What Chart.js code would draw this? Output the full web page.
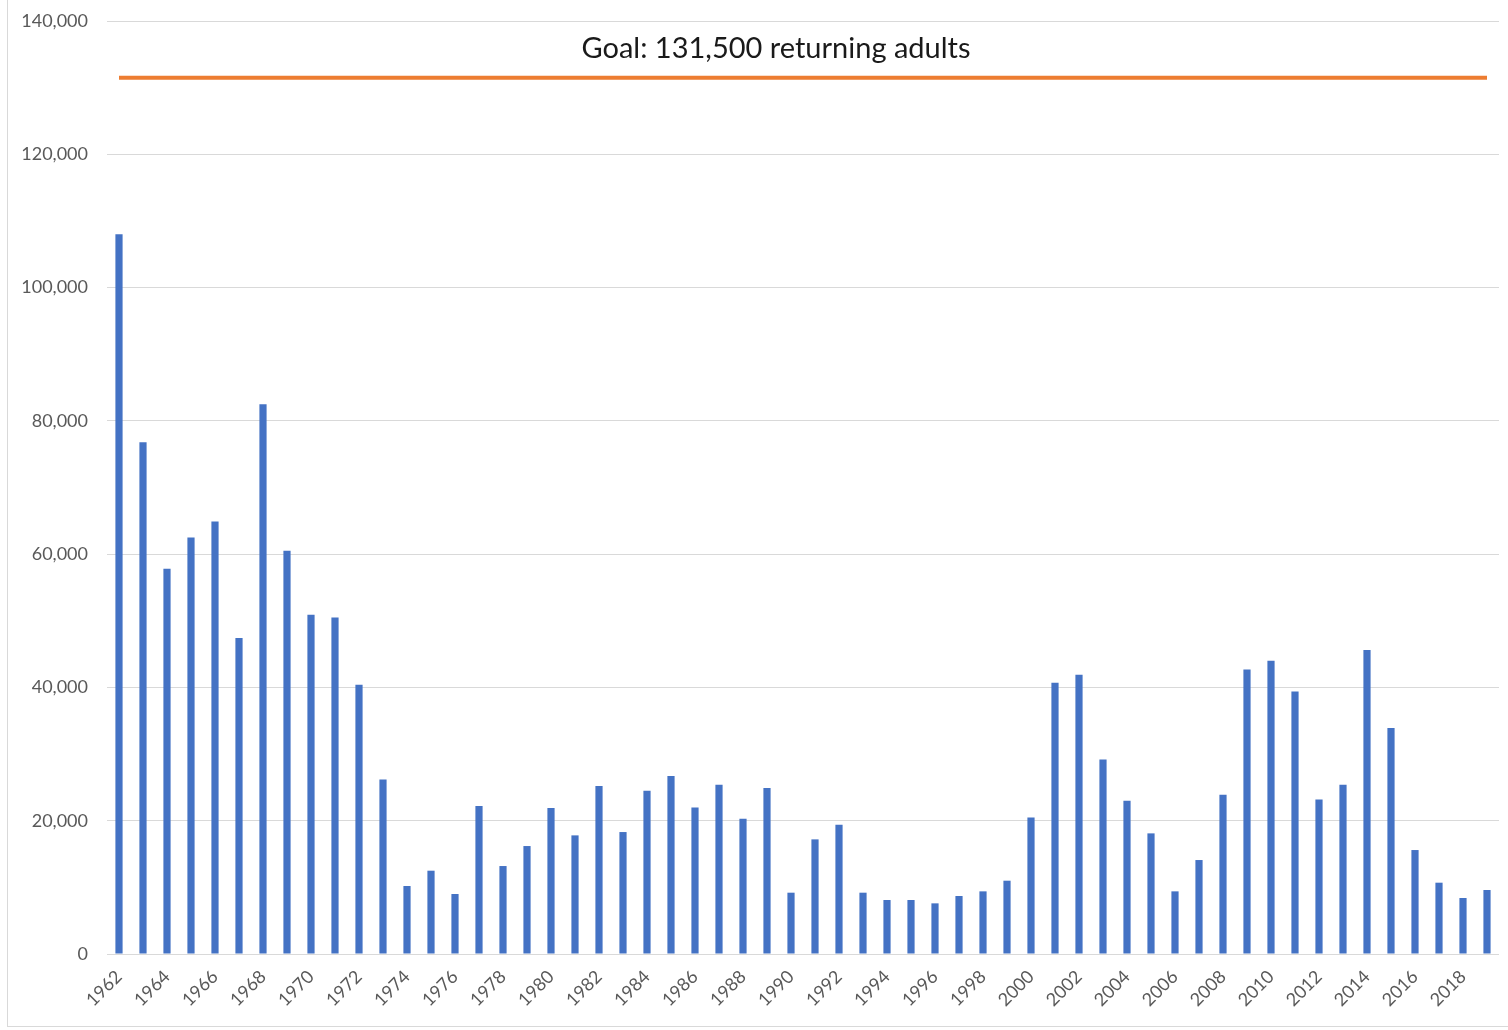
<!DOCTYPE html>
<html>
<head>
<meta charset="utf-8">
<script src="https://cdn.jsdelivr.net/npm/chart.js@4"></script>
<style>
  html, body { margin: 0; padding: 0; background: #fff; }
  #wrap { position: relative; width: 1508px; height: 1030px; }
  #frame { position: absolute; left: 7px; top: 0; width: 1501px; height: 1027px;
           border-left: 1px solid #d9d9d9; border-bottom: 1px solid #d9d9d9; box-sizing: border-box; }
</style>
</head>
<body>
<div id="wrap">
  <div id="frame"></div>
  <canvas id="myChart" width="1508" height="1030"></canvas>
</div>
<script>
// Anios y adultos que regresan
const years = [];
for (let y = 1962; y <= 2019; y++) years.push(String(y));

const adults = [
  108000, 76800, 57800, 62500, 64900, 47400, 82500, 60500, 50900, 50500,
  40400, 26200, 10200, 12500, 9000, 22200, 13200, 16200, 21900, 17800,
  25200, 18300, 24500, 26700, 22000, 25400, 20300, 24900, 9200, 17200,
  19400, 9200, 8100, 8100, 7600, 8700, 9400, 11000, 20500, 40700,
  41900, 29200, 23000, 18100, 9400, 14100, 23900, 42700, 44000, 39400,
  23200, 25400, 45600, 33900, 15600, 10700, 8400, 9600
];

const goal = 131500;
const goalText = 'Goal: 131,500 returning adults';
const yTicks = [0, 20000, 40000, 60000, 80000, 100000, 120000, 140000];

const fontFam = 'Lato, "Open Sans", sans-serif';

// Texto de la meta dibujado dentro del area del grafico
const goalLabel = {
  id: 'goalLabel',
  afterDatasetsDraw(chart) {
    const { ctx, chartArea, scales } = chart;
    const x = chartArea.left + chartArea.width * 0.4806;
    const y = scales.y.getPixelForValue(135900);
    ctx.save();
    ctx.font = '29px ' + fontFam;
    ctx.fillStyle = '#1a1a1a';
    ctx.textAlign = 'center';
    ctx.textBaseline = 'middle';
    ctx.fillText(goalText, x, y);
    ctx.restore();
  }
};

const ctx = document.getElementById('myChart');

new Chart(ctx, {
  type: 'bar',
  data: {
    labels: years,
    datasets: [
      {
        type: 'line',
        label: 'Goal',
        data: [{ x: years[0], y: goal }, { x: years[years.length - 1], y: goal }],
        borderColor: '#ED7D31',
        borderWidth: 4,
        pointRadius: 0,
        fill: false,
        order: 0
      },
      {
        label: 'Returning adults',
        data: adults,
        backgroundColor: '#4472C4',
        borderWidth: 0,
        barPercentage: 0.3,
        categoryPercentage: 1.0,
        order: 1
      }
    ]
  },
  options: {
    responsive: false,
    animation: false,
    layout: { padding: { top: 21, right: 9, left: 7, bottom: 0 } },
    plugins: {
      legend: { display: false },
      title: { display: false },
      tooltip: { enabled: false }
    },
    scales: {
      y: {
        min: 0,
        max: 140000,
        afterBuildTicks: s => { s.ticks = yTicks.map(v => ({ value: v })); },
        afterFit: s => { s.width = 100; s.paddingTop = 0; s.paddingBottom = 0; },
        grid: { color: '#d9d9d9', drawTicks: false },
        border: { display: false },
        ticks: {
          padding: 19,
          color: '#595959',
          font: { family: fontFam, size: 18 },
          callback: v => v.toLocaleString('en-US')
        }
      },
      x: {
        offset: true,
        afterFit: s => { s.height = 76; },
        grid: { display: false },
        border: { display: false },
        ticks: {
          autoSkip: false,
          maxRotation: 45,
          minRotation: 45,
          padding: 4,
          color: '#595959',
          font: { family: fontFam, size: 18 },
          callback: function (v, i) { return i % 2 === 0 ? this.getLabelForValue(v) : ''; }
        }
      }
    }
  },
  plugins: [goalLabel]
});
</script>
</body>
</html>
